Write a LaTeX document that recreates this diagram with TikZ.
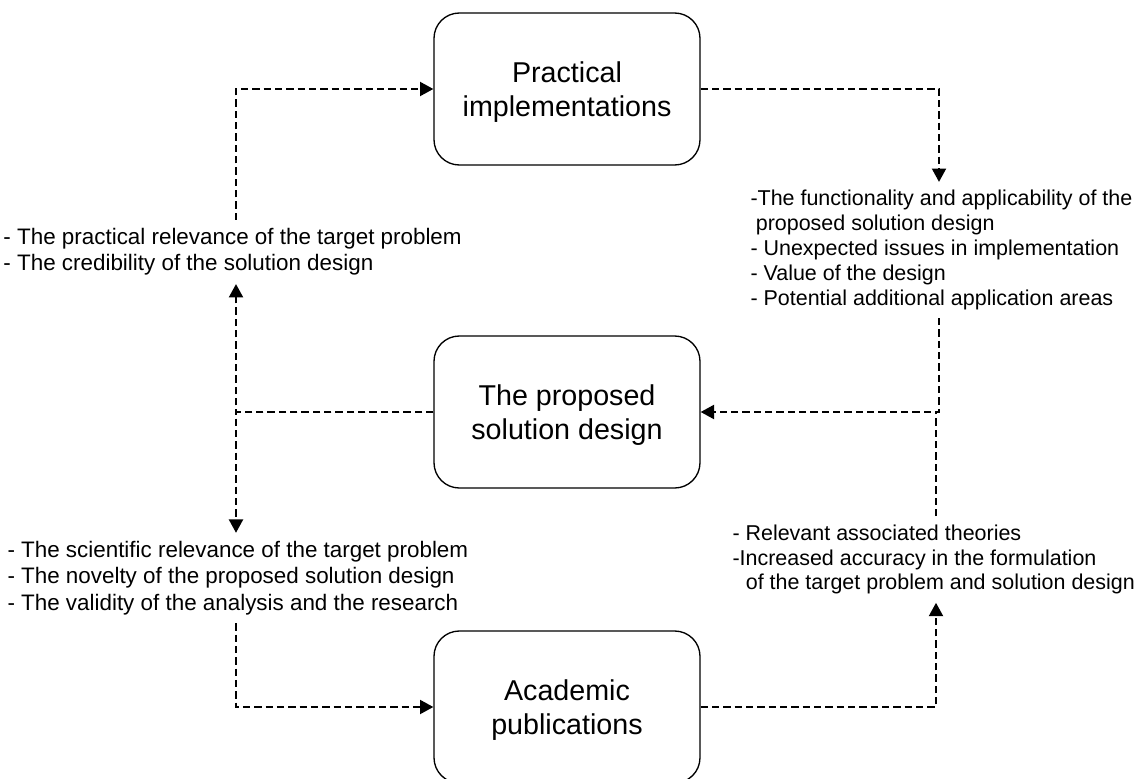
\documentclass[tikz,border=0pt]{standalone}
\usepackage{fontspec}
\setmainfont{Liberation Sans}
\usetikzlibrary{arrows.meta}

\tikzset{every picture/.style={line width=0.75pt}}
\tikzset{
  stage/.style={draw, line width=1pt, rounded corners=19pt, minimum width=199.5pt, minimum height=114pt,
    align=center, text depth=0pt, font=\fontsize{21.5}{25.5}\selectfont},
  remark/.style={align=left, inner xsep=0pt, inner ysep=6pt, font=\fontsize{16.8}{19.7}\selectfont},
  remarkr/.style={remark, font=\fontsize{16.1}{18.6}\selectfont},
  flow/.style={line width=1.5pt, dash pattern=on 5.5pt off 3pt, -{Triangle[length=10pt,width=10.5pt]}},
  flowplain/.style={line width=1.5pt, dash pattern=on 5.5pt off 3pt}
}

\begin{document}
\begin{tikzpicture}[x=0.75pt,y=0.75pt,yscale=-1,xscale=1]
	%set diagram to 1142 x 778
	\path[fill=white] (0,0) rectangle (1142,778);
	\useasboundingbox (0,0) rectangle (1142,778);

	% Stages
	\node[stage] (impl) at (567,89) {Practical\\implementations};
	\node[stage] (design) at (567,412) {The proposed\\solution design};
	\node[stage] (acad) at (567,707) {Academic\\publications};

	% Remarks
	\node[remark, anchor=west] (practtxt) at (3,252) {- The practical relevance of the target problem\\- The credibility of the solution design};
	\node[remark, anchor=west] (scitxt) at (7,578) {- The scientific relevance of the target problem\\- The novelty of the proposed solution design\\- The validity of the analysis and the research};
	\node[remarkr, anchor=west] (functxt) at (750,250) {-The functionality and applicability of the\\\hspace*{4pt}proposed solution design\\- Unexpected issues in implementation\\- Value of the design\\- Potential additional application areas};
	\node[remarkr, anchor=west] (theortxt) at (732,559.5) {- Relevant associated theories\\-Increased accuracy in the formulation\\\hspace*{10pt}of the target problem and solution design};

	% Bends
	\coordinate (lsplit) at (236,412);
	\coordinate (rtop) at (939,412);
	\coordinate (rbot) at (936,412);

	% Connectors
	\draw[flow] (practtxt.north -| lsplit) |- (impl.west);
	\draw[flow] (impl.east) -| (rtop |- functxt.north);
	\draw[flow] (functxt.south -| rtop) |- (design.east);
	\draw[flowplain] (theortxt.north -| rbot) -- (rbot);
	\draw[flow] (design.west) -| (lsplit |- practtxt.south);
	\draw[flow] (design.west) -| (lsplit |- scitxt.north);
	\draw[flow] (scitxt.south -| lsplit) |- (acad.west);
	\draw[flow] (acad.east) -| (rbot |- theortxt.south);

\end{tikzpicture}
\end{document}
